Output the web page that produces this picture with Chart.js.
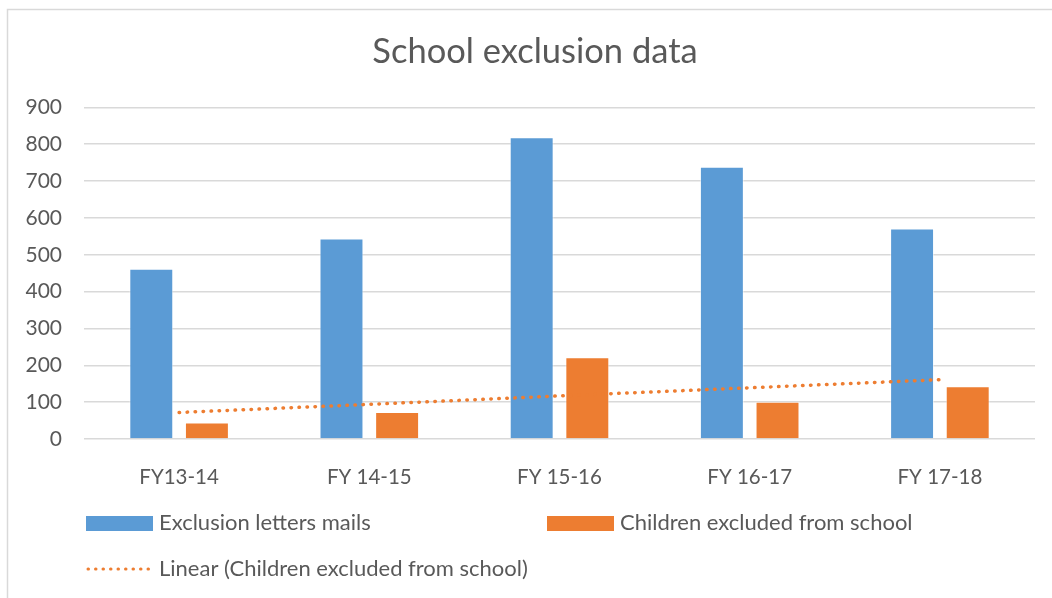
<!DOCTYPE html>
<html>
<head>
<meta charset="utf-8">
<script src="https://cdn.jsdelivr.net/npm/chart.js@4/dist/chart.umd.min.js"></script>
<style>
  html, body { margin: 0; padding: 0; background: #fff; }
  #wrap { position: relative; width: 1052px; height: 598px; }
</style>
</head>
<body>
<div id="wrap"><canvas id="chart"></canvas></div>
<script>
const categories = ["FY13-14", "FY 14-15", "FY 15-16", "FY 16-17", "FY 17-18"];
const letters = [462, 544, 819, 739, 571];
const excluded = [45, 73, 222, 101, 143];
const trend = [72, 94, 117, 139, 161];
const yTicks = [0, 100, 200, 300, 400, 500, 600, 700, 800, 900];

const BLUE = "#5B9BD5";
const ORANGE = "#ED7D31";
const TEXT = "#595959";
const GRID = "#D9D9D9";
const FONT = "Lato, 'Open Sans', sans-serif";

// frame (top + left only, like the cropped office chart)
const framePlugin = {
    id: "frame",
    beforeDraw(chart) {
        const ctx = chart.ctx;
        ctx.save();
        ctx.strokeStyle = GRID;
        ctx.lineWidth = 1.5;
        ctx.beginPath();
        ctx.moveTo(7.5, chart.height);
        ctx.lineTo(7.5, 9.5);
        ctx.lineTo(chart.width, 9.5);
        ctx.stroke();
        ctx.restore();
    },
};

// two column legend under the x axis
const legendPlugin = {
    id: "colLegend",
    afterDraw(chart) {
        const ctx = chart.ctx;
        const left = chart.chartArea.left + 2;
        const colW = 461;
        const row1 = chart.chartArea.bottom + 84;
        const row2 = row1 + 46;
        const items = [
            { ds: chart.data.datasets[1], x: left, y: row1 },
            { ds: chart.data.datasets[2], x: left + colW, y: row1 },
            { ds: chart.data.datasets[0], x: left, y: row2 },
        ];
        ctx.save();
        ctx.font = "22px " + FONT;
        ctx.fillStyle = TEXT;
        ctx.textBaseline = "middle";
        items.forEach((it) => {
            if (it.ds.type === "line") {
                ctx.strokeStyle = it.ds.borderColor;
                ctx.lineWidth = 3;
                ctx.lineCap = "round";
                ctx.setLineDash([0.5, 7]);
                ctx.beginPath();
                ctx.moveTo(it.x + 2, it.y);
                ctx.lineTo(it.x + 66, it.y);
                ctx.stroke();
                ctx.setLineDash([]);
            } else {
                ctx.fillStyle = it.ds.backgroundColor;
                ctx.fillRect(it.x, it.y - 7, 67, 15);
            }
            ctx.fillStyle = TEXT;
            ctx.fillText(it.ds.label, it.x + 73, it.y);
        });
        ctx.restore();
    },
};

new Chart(document.getElementById("chart"), {
    type: "bar",
    data: {
        labels: categories,
        datasets: [
            {
                type: "line",
                label: "Linear (Children excluded from school)",
                data: trend,
                borderColor: ORANGE,
                borderWidth: 3.5,
                borderCapStyle: "round",
                borderDash: [0.5, 7.5],
                pointRadius: 0,
                fill: false,
                tension: 0,
                order: 0,
            },
            {
                label: "Exclusion letters mails",
                data: letters,
                backgroundColor: BLUE,
                borderColor: "rgba(255,255,255,0.5)",
                borderWidth: 1,
                categoryPercentage: 0.585,
                barPercentage: 0.79,
                order: 1,
            },
            {
                label: "Children excluded from school",
                data: excluded,
                backgroundColor: ORANGE,
                borderColor: "rgba(255,255,255,0.5)",
                borderWidth: 1,
                categoryPercentage: 0.585,
                barPercentage: 0.79,
                order: 2,
            },
        ],
    },
    options: {
        responsive: true,
        maintainAspectRatio: false,
        animation: false,
        layout: { padding: { left: 18, right: 0, top: 0, bottom: 100 } },
        plugins: {
            legend: { display: false },
            tooltip: { enabled: false },
            title: {
                display: true,
                text: "School exclusion data",
                color: TEXT,
                font: { family: FONT, size: 34.5, weight: "normal" },
                padding: { top: 31, bottom: 35 },
            },
        },
        scales: {
            x: {
                grid: { display: false },
                border: { display: false },
                ticks: {
                    color: TEXT,
                    font: { family: FONT, size: 20.5 },
                    padding: 18,
                    maxRotation: 0,
                },
                afterFit: (scale) => { scale.height = 59; },
            },
            y: {
                min: 0,
                max: 900,
                afterBuildTicks: (scale) => {
                    scale.ticks = yTicks.map((v) => ({ value: v }));
                },
                grid: { color: GRID, lineWidth: 1.5, drawTicks: false },
                border: { display: false },
                ticks: {
                    color: TEXT,
                    font: { family: FONT, size: 21 },
                    padding: 22,
                },
                afterFit: (scale) => { scale.width = 66; },
            },
            // empty spacer on the right so the plot ends where the reference does
            yRight: {
                position: "right",
                min: 0,
                max: 900,
                grid: { display: false },
                border: { display: false },
                ticks: { display: false },
                afterFit: (scale) => { scale.width = 17; },
            },
        },
    },
    plugins: [framePlugin, legendPlugin],
});
</script>
</body>
</html>
